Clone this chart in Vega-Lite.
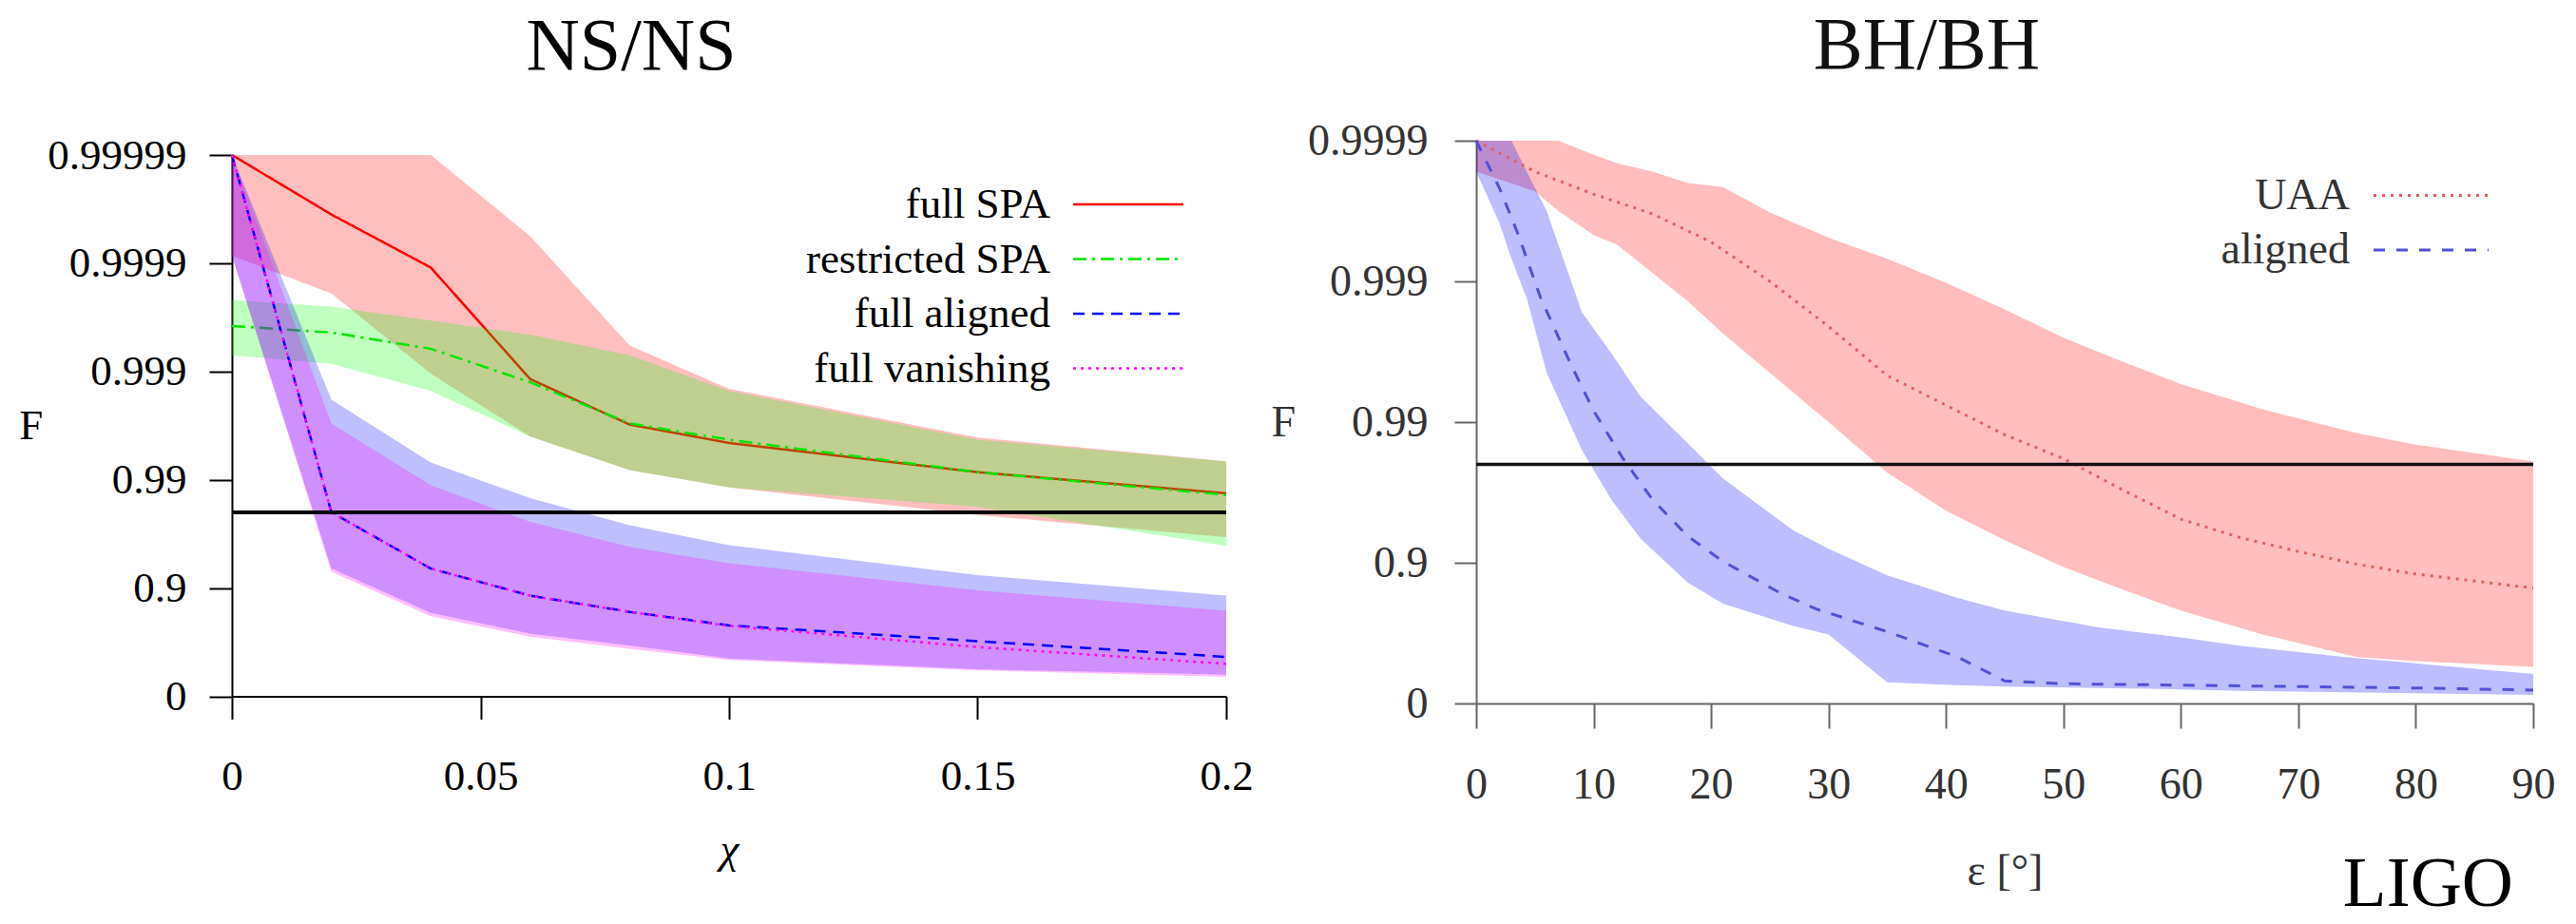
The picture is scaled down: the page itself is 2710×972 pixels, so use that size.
{
"$schema":"https://vega.github.io/schema/vega-lite/v6.json",
"background":"white",
"padding":{"left":19,"top":10,"right":5,"bottom":0},
"spacing":17,
"resolve":{"scale":{"color":"independent","strokeDash":"independent"},"legend":{"color":"independent","strokeDash":"independent"}},
"datasets":{
"ns":[
{"x":0,"series":"full SPA","lo":4.07,"hi":5.0,"mid":5.0},
{"x":0.02,"series":"full SPA","lo":3.72,"hi":5.0,"mid":4.45},
{"x":0.04,"series":"full SPA","lo":2.98,"hi":5.0,"mid":3.96},
{"x":0.06,"series":"full SPA","lo":2.40,"hi":4.25,"mid":2.93},
{"x":0.08,"series":"full SPA","lo":2.09,"hi":3.24,"mid":2.51},
{"x":0.1,"series":"full SPA","lo":1.93,"hi":2.84,"mid":2.34},
{"x":0.15,"series":"full SPA","lo":1.675,"hi":2.39,"mid":2.07},
{"x":0.2,"series":"full SPA","lo":1.47,"hi":2.17,"mid":1.875},
{"x":0,"series":"restricted SPA","lo":3.15,"hi":3.66,"mid":3.42},
{"x":0.02,"series":"restricted SPA","lo":3.07,"hi":3.60,"mid":3.36},
{"x":0.04,"series":"restricted SPA","lo":2.82,"hi":3.47,"mid":3.21},
{"x":0.06,"series":"restricted SPA","lo":2.40,"hi":3.34,"mid":2.90},
{"x":0.08,"series":"restricted SPA","lo":2.09,"hi":3.15,"mid":2.52},
{"x":0.1,"series":"restricted SPA","lo":1.93,"hi":2.82,"mid":2.37},
{"x":0.15,"series":"restricted SPA","lo":1.75,"hi":2.37,"mid":2.07},
{"x":0.2,"series":"restricted SPA","lo":1.39,"hi":2.17,"mid":1.86},
{"x":0,"series":"full aligned","lo":4.07,"hi":5.0,"mid":5.0},
{"x":0.02,"series":"full aligned","lo":1.18,"hi":2.74,"mid":1.70},
{"x":0.04,"series":"full aligned","lo":0.77,"hi":2.16,"mid":1.18},
{"x":0.06,"series":"full aligned","lo":0.58,"hi":1.83,"mid":0.93},
{"x":0.08,"series":"full aligned","lo":0.47,"hi":1.58,"mid":0.78},
{"x":0.1,"series":"full aligned","lo":0.35,"hi":1.395,"mid":0.655},
{"x":0.15,"series":"full aligned","lo":0.25,"hi":1.12,"mid":0.51},
{"x":0.2,"series":"full aligned","lo":0.20,"hi":0.93,"mid":0.364},
{"x":0,"series":"full vanishing","lo":4.07,"hi":5.0,"mid":5.0},
{"x":0.02,"series":"full vanishing","lo":1.15,"hi":2.52,"mid":1.70},
{"x":0.04,"series":"full vanishing","lo":0.74,"hi":1.95,"mid":1.18},
{"x":0.06,"series":"full vanishing","lo":0.55,"hi":1.61,"mid":0.93},
{"x":0.08,"series":"full vanishing","lo":0.44,"hi":1.38,"mid":0.78},
{"x":0.1,"series":"full vanishing","lo":0.335,"hi":1.23,"mid":0.65},
{"x":0.15,"series":"full vanishing","lo":0.24,"hi":0.98,"mid":0.455},
{"x":0.2,"series":"full vanishing","lo":0.18,"hi":0.79,"mid":0.30}
],
"bh_band":[
{"x":0,"series":"UAA","lo":3.78,"hi":4.0},
{"x":5,"series":"UAA","lo":3.64,"hi":4.0},
{"x":7,"series":"UAA","lo":3.50,"hi":4.0},
{"x":10,"series":"UAA","lo":3.33,"hi":3.90},
{"x":12,"series":"UAA","lo":3.26,"hi":3.84},
{"x":15,"series":"UAA","lo":3.06,"hi":3.78},
{"x":18,"series":"UAA","lo":2.86,"hi":3.70},
{"x":21,"series":"UAA","lo":2.63,"hi":3.67},
{"x":25,"series":"UAA","lo":2.35,"hi":3.49},
{"x":30,"series":"UAA","lo":2.00,"hi":3.31},
{"x":35,"series":"UAA","lo":1.64,"hi":3.16},
{"x":40,"series":"UAA","lo":1.37,"hi":2.99},
{"x":45,"series":"UAA","lo":1.16,"hi":2.80},
{"x":50,"series":"UAA","lo":0.97,"hi":2.60},
{"x":55,"series":"UAA","lo":0.81,"hi":2.43},
{"x":60,"series":"UAA","lo":0.66,"hi":2.27},
{"x":67,"series":"UAA","lo":0.49,"hi":2.09},
{"x":75,"series":"UAA","lo":0.33,"hi":1.92},
{"x":80,"series":"UAA","lo":0.30,"hi":1.84},
{"x":90,"series":"UAA","lo":0.26,"hi":1.72},
{"x":0,"series":"aligned","lo":3.78,"hi":4.0},
{"x":2,"series":"aligned","lo":3.41,"hi":4.0},
{"x":3,"series":"aligned","lo":3.16,"hi":4.0},
{"x":4.3,"series":"aligned","lo":2.88,"hi":3.78},
{"x":6,"series":"aligned","lo":2.35,"hi":3.50},
{"x":9,"series":"aligned","lo":1.80,"hi":2.78},
{"x":11.5,"series":"aligned","lo":1.45,"hi":2.49},
{"x":14,"series":"aligned","lo":1.17,"hi":2.18},
{"x":18,"series":"aligned","lo":0.86,"hi":1.85},
{"x":21,"series":"aligned","lo":0.71,"hi":1.60},
{"x":27,"series":"aligned","lo":0.55,"hi":1.23},
{"x":30,"series":"aligned","lo":0.49,"hi":1.10},
{"x":35,"series":"aligned","lo":0.15,"hi":0.91},
{"x":41,"series":"aligned","lo":0.13,"hi":0.75},
{"x":45,"series":"aligned","lo":0.12,"hi":0.66},
{"x":53,"series":"aligned","lo":0.11,"hi":0.54},
{"x":60,"series":"aligned","lo":0.10,"hi":0.47},
{"x":65,"series":"aligned","lo":0.09,"hi":0.41},
{"x":74,"series":"aligned","lo":0.08,"hi":0.33},
{"x":90,"series":"aligned","lo":0.06,"hi":0.21}
],
"bh_line":[
{"x":0,"series":"UAA","v":4.0},
{"x":5,"series":"UAA","v":3.78},
{"x":10,"series":"UAA","v":3.62},
{"x":15,"series":"UAA","v":3.48},
{"x":20,"series":"UAA","v":3.28},
{"x":25,"series":"UAA","v":3.00},
{"x":30,"series":"UAA","v":2.68},
{"x":35,"series":"UAA","v":2.33},
{"x":40,"series":"UAA","v":2.12},
{"x":45,"series":"UAA","v":1.91},
{"x":50,"series":"UAA","v":1.74},
{"x":55,"series":"UAA","v":1.52},
{"x":60,"series":"UAA","v":1.31},
{"x":65,"series":"UAA","v":1.18},
{"x":70,"series":"UAA","v":1.08},
{"x":75,"series":"UAA","v":0.99},
{"x":80,"series":"UAA","v":0.92},
{"x":85,"series":"UAA","v":0.87},
{"x":90,"series":"UAA","v":0.82},
{"x":0,"series":"aligned","v":4.0},
{"x":2,"series":"aligned","v":3.66},
{"x":3.5,"series":"aligned","v":3.35},
{"x":5.5,"series":"aligned","v":2.88},
{"x":8,"series":"aligned","v":2.42},
{"x":10,"series":"aligned","v":2.08},
{"x":12.5,"series":"aligned","v":1.74},
{"x":15,"series":"aligned","v":1.45},
{"x":18,"series":"aligned","v":1.19},
{"x":21,"series":"aligned","v":1.01},
{"x":26,"series":"aligned","v":0.78},
{"x":29,"series":"aligned","v":0.67},
{"x":35,"series":"aligned","v":0.51},
{"x":41,"series":"aligned","v":0.33},
{"x":45,"series":"aligned","v":0.16},
{"x":50,"series":"aligned","v":0.14},
{"x":60,"series":"aligned","v":0.13},
{"x":70,"series":"aligned","v":0.12},
{"x":80,"series":"aligned","v":0.11},
{"x":90,"series":"aligned","v":0.095}
]
},
"hconcat":[
{
"width":1046,"height":584.5,
"title":{"text":"NS/NS","font":"Liberation Serif","fontSize":78,"fontWeight":"normal","color":"black","anchor":"middle","frame":"group","baseline":"alphabetic","offset":-9.5,"dx":-103},
"layer":[
{"data":{"name":"ns"},"transform":[{"filter":"datum.series == 'full SPA'"}],
 "mark":{"type":"area","fill":"#ff0000","fillOpacity":0.25},
 "encoding":{
  "x":{"field":"x","type":"quantitative","scale":{"domain":[0,0.2],"nice":false},"axis":{"title":"χ","titleFontStyle":"italic","values":[0,0.05,0.1,0.15,0.2],"format":"~g"}},
  "y":{"field":"lo","type":"quantitative","stack":null,"scale":{"domain":[0,5],"nice":false,"range":[584.5,15]},"axis":{"title":"F","values":[0,1,2,3,4,5],"labelExpr":"datum.value==0?'0':datum.value==1?'0.9':datum.value==2?'0.99':datum.value==3?'0.999':datum.value==4?'0.9999':'0.99999'"}},
  "y2":{"field":"hi"}}},
{"data":{"name":"ns"},"transform":[{"filter":"datum.series == 'full SPA'"}],
 "mark":{"type":"line","strokeWidth":2.5},
 "encoding":{
  "x":{"field":"x","type":"quantitative","scale":{"domain":[0,0.2],"nice":false},"axis":{"title":"χ","titleFontStyle":"italic","values":[0,0.05,0.1,0.15,0.2],"format":"~g"}},
  "y":{"field":"mid","type":"quantitative","scale":{"domain":[0,5],"nice":false,"range":[584.5,15]},"axis":{"title":"F","values":[0,1,2,3,4,5],"labelExpr":"datum.value==0?'0':datum.value==1?'0.9':datum.value==2?'0.99':datum.value==3?'0.999':datum.value==4?'0.9999':'0.99999'"}},
  "color":{"field":"series","type":"nominal","scale":{"domain":["full SPA","restricted SPA","full aligned","full vanishing"],"range":["#ff0000","#00e600","#0000ff","#ff00ff"]},"legend":{"title":null,"orient":"none","legendX":920.5,"legendY":44.5,"symbolType":"M-4,0H4","symbolSize":841,"symbolStrokeWidth":2.5,"labelAlign":"right","labelOffset":-104.5,"labelFont":"Liberation Serif","labelFontSize":45,"labelColor":"black","labelLimit":0,"rowPadding":11.5,"padding":0}},
  "strokeDash":{"field":"series","type":"nominal","scale":{"domain":["full SPA","restricted SPA","full aligned","full vanishing"],"range":[[1,0],[14,6,3,6],[12,8],[3,5]]},"legend":{"title":null,"orient":"none","legendX":920.5,"legendY":44.5,"symbolType":"M-4,0H4","symbolSize":841,"symbolStrokeWidth":2.5,"labelAlign":"right","labelOffset":-104.5,"labelFont":"Liberation Serif","labelFontSize":45,"labelColor":"black","labelLimit":0,"rowPadding":11.5,"padding":0}}}},
{"data":{"name":"ns"},"transform":[{"filter":"datum.series == 'restricted SPA'"}],
 "mark":{"type":"area","fill":"#00ff00","fillOpacity":0.25},
 "encoding":{
  "x":{"field":"x","type":"quantitative","scale":{"domain":[0,0.2],"nice":false},"axis":{"title":"χ","titleFontStyle":"italic","values":[0,0.05,0.1,0.15,0.2],"format":"~g"}},
  "y":{"field":"lo","type":"quantitative","stack":null,"scale":{"domain":[0,5],"nice":false,"range":[584.5,15]},"axis":{"title":"F","values":[0,1,2,3,4,5],"labelExpr":"datum.value==0?'0':datum.value==1?'0.9':datum.value==2?'0.99':datum.value==3?'0.999':datum.value==4?'0.9999':'0.99999'"}},
  "y2":{"field":"hi"}}},
{"data":{"name":"ns"},"transform":[{"filter":"datum.series == 'restricted SPA'"}],
 "mark":{"type":"line","strokeWidth":2.5},
 "encoding":{
  "x":{"field":"x","type":"quantitative","scale":{"domain":[0,0.2],"nice":false},"axis":{"title":"χ","titleFontStyle":"italic","values":[0,0.05,0.1,0.15,0.2],"format":"~g"}},
  "y":{"field":"mid","type":"quantitative","scale":{"domain":[0,5],"nice":false,"range":[584.5,15]},"axis":{"title":"F","values":[0,1,2,3,4,5],"labelExpr":"datum.value==0?'0':datum.value==1?'0.9':datum.value==2?'0.99':datum.value==3?'0.999':datum.value==4?'0.9999':'0.99999'"}},
  "color":{"field":"series","type":"nominal","scale":{"domain":["full SPA","restricted SPA","full aligned","full vanishing"],"range":["#ff0000","#00e600","#0000ff","#ff00ff"]}},
  "strokeDash":{"field":"series","type":"nominal","scale":{"domain":["full SPA","restricted SPA","full aligned","full vanishing"],"range":[[1,0],[14,6,3,6],[12,8],[3,5]]}}}},
{"data":{"name":"ns"},"transform":[{"filter":"datum.series == 'full aligned'"}],
 "mark":{"type":"area","fill":"#0000ff","fillOpacity":0.25},
 "encoding":{
  "x":{"field":"x","type":"quantitative","scale":{"domain":[0,0.2],"nice":false},"axis":{"title":"χ","titleFontStyle":"italic","values":[0,0.05,0.1,0.15,0.2],"format":"~g"}},
  "y":{"field":"lo","type":"quantitative","stack":null,"scale":{"domain":[0,5],"nice":false,"range":[584.5,15]},"axis":{"title":"F","values":[0,1,2,3,4,5],"labelExpr":"datum.value==0?'0':datum.value==1?'0.9':datum.value==2?'0.99':datum.value==3?'0.999':datum.value==4?'0.9999':'0.99999'"}},
  "y2":{"field":"hi"}}},
{"data":{"name":"ns"},"transform":[{"filter":"datum.series == 'full vanishing'"}],
 "mark":{"type":"area","fill":"#ff00ff","fillOpacity":0.25},
 "encoding":{
  "x":{"field":"x","type":"quantitative","scale":{"domain":[0,0.2],"nice":false},"axis":{"title":"χ","titleFontStyle":"italic","values":[0,0.05,0.1,0.15,0.2],"format":"~g"}},
  "y":{"field":"lo","type":"quantitative","stack":null,"scale":{"domain":[0,5],"nice":false,"range":[584.5,15]},"axis":{"title":"F","values":[0,1,2,3,4,5],"labelExpr":"datum.value==0?'0':datum.value==1?'0.9':datum.value==2?'0.99':datum.value==3?'0.999':datum.value==4?'0.9999':'0.99999'"}},
  "y2":{"field":"hi"}}},
{"data":{"name":"ns"},"transform":[{"filter":"datum.series == 'full aligned' || datum.series == 'full vanishing'"}],
 "mark":{"type":"line","strokeWidth":2.5},
 "encoding":{
  "x":{"field":"x","type":"quantitative","scale":{"domain":[0,0.2],"nice":false},"axis":{"title":"χ","titleFontStyle":"italic","values":[0,0.05,0.1,0.15,0.2],"format":"~g"}},
  "y":{"field":"mid","type":"quantitative","scale":{"domain":[0,5],"nice":false,"range":[584.5,15]},"axis":{"title":"F","values":[0,1,2,3,4,5],"labelExpr":"datum.value==0?'0':datum.value==1?'0.9':datum.value==2?'0.99':datum.value==3?'0.999':datum.value==4?'0.9999':'0.99999'"}},
  "color":{"field":"series","type":"nominal","scale":{"domain":["full SPA","restricted SPA","full aligned","full vanishing"],"range":["#ff0000","#00e600","#0000ff","#ff00ff"]}},
  "strokeDash":{"field":"series","type":"nominal","scale":{"domain":["full SPA","restricted SPA","full aligned","full vanishing"],"range":[[1,0],[14,6,3,6],[12,8],[3,5]]}}}},
{"data":{"values":[{"nines":1.699}]},
 "mark":{"type":"rule","color":"black","strokeWidth":4},
 "encoding":{
  "y":{"field":"nines","type":"quantitative","scale":{"domain":[0,5],"nice":false,"range":[584.5,15]},"axis":{"title":"F","values":[0,1,2,3,4,5],"labelExpr":"datum.value==0?'0':datum.value==1?'0.9':datum.value==2?'0.99':datum.value==3?'0.999':datum.value==4?'0.9999':'0.99999'"}}}}
]
},
{
"width":1112,"height":592,
"title":{"text":"BH/BH","font":"Liberation Serif","fontSize":78,"fontWeight":"normal","color":"#111111","anchor":"middle","frame":"group","baseline":"alphabetic","offset":-25,"dx":-82},
"layer":[
{"data":{"name":"bh_band"},"transform":[{"filter":"datum.series == 'UAA'"}],
 "mark":{"type":"area","fill":"#ff0000","fillOpacity":0.26},
 "encoding":{
  "x":{"field":"x","type":"quantitative","scale":{"domain":[0,90],"nice":false},"axis":{"title":"ε [°]","values":[0,10,20,30,40,50,60,70,80,90],"labelFontSize":46,"titleFontSize":46,"labelColor":"#333333","titleColor":"#333333","domainColor":"#666666","tickColor":"#666666","tickSize":26,"labelPadding":37,"titlePadding":46}},
  "y":{"field":"lo","type":"quantitative","stack":null,"scale":{"domain":[0,4],"nice":false},"axis":{"title":"F","values":[0,1,2,3,4],"labelExpr":"datum.value==0?'0':datum.value==1?'0.9':datum.value==2?'0.99':datum.value==3?'0.999':'0.9999'","labelFontSize":46,"titleFontSize":46,"labelColor":"#333333","titleColor":"#333333","domainColor":"#666666","tickColor":"#666666","tickSize":23,"labelPadding":28,"titlePadding":13}},
  "y2":{"field":"hi"}}},
{"data":{"name":"bh_band"},"transform":[{"filter":"datum.series == 'aligned'"}],
 "mark":{"type":"area","fill":"#0000ff","fillOpacity":0.26},
 "encoding":{
  "x":{"field":"x","type":"quantitative","scale":{"domain":[0,90],"nice":false},"axis":{"title":"ε [°]","values":[0,10,20,30,40,50,60,70,80,90],"labelFontSize":46,"titleFontSize":46,"labelColor":"#333333","titleColor":"#333333","domainColor":"#666666","tickColor":"#666666","tickSize":26,"labelPadding":37,"titlePadding":46}},
  "y":{"field":"lo","type":"quantitative","stack":null,"scale":{"domain":[0,4],"nice":false},"axis":{"title":"F","values":[0,1,2,3,4],"labelExpr":"datum.value==0?'0':datum.value==1?'0.9':datum.value==2?'0.99':datum.value==3?'0.999':'0.9999'","labelFontSize":46,"titleFontSize":46,"labelColor":"#333333","titleColor":"#333333","domainColor":"#666666","tickColor":"#666666","tickSize":23,"labelPadding":28,"titlePadding":13}},
  "y2":{"field":"hi"}}},
{"data":{"name":"bh_line"},
 "mark":{"type":"line","strokeWidth":3},
 "encoding":{
  "x":{"field":"x","type":"quantitative","scale":{"domain":[0,90],"nice":false},"axis":{"title":"ε [°]","values":[0,10,20,30,40,50,60,70,80,90],"labelFontSize":46,"titleFontSize":46,"labelColor":"#333333","titleColor":"#333333","domainColor":"#666666","tickColor":"#666666","tickSize":26,"labelPadding":37,"titlePadding":46}},
  "y":{"field":"v","type":"quantitative","scale":{"domain":[0,4],"nice":false},"axis":{"title":"F","values":[0,1,2,3,4],"labelExpr":"datum.value==0?'0':datum.value==1?'0.9':datum.value==2?'0.99':datum.value==3?'0.999':'0.9999'","labelFontSize":46,"titleFontSize":46,"labelColor":"#333333","titleColor":"#333333","domainColor":"#666666","tickColor":"#666666","tickSize":23,"labelPadding":28,"titlePadding":13}},
  "color":{"field":"series","type":"nominal","scale":{"domain":["UAA","aligned"],"range":["#e06060","#5050d8"]},"legend":{"title":null,"orient":"none","legendX":981.5,"legendY":34.5,"symbolType":"M-4,0H4","symbolSize":915,"symbolStrokeWidth":3,"labelAlign":"right","labelOffset":-108.5,"labelFont":"Liberation Serif","labelFontSize":46,"labelColor":"#333333","labelLimit":0,"rowPadding":11.5,"padding":0}},
  "strokeDash":{"field":"series","type":"nominal","scale":{"domain":["UAA","aligned"],"range":[[3,6],[12,12]]},"legend":{"title":null,"orient":"none","legendX":981.5,"legendY":34.5,"symbolType":"M-4,0H4","symbolSize":915,"symbolStrokeWidth":3,"labelAlign":"right","labelOffset":-108.5,"labelFont":"Liberation Serif","labelFontSize":46,"labelColor":"#333333","labelLimit":0,"rowPadding":11.5,"padding":0}}}},
{"data":{"values":[{"nines":1.699}]},
 "mark":{"type":"rule","color":"#111111","strokeWidth":3.5},
 "encoding":{
  "y":{"field":"nines","type":"quantitative","scale":{"domain":[0,4],"nice":false},"axis":{"title":"F","values":[0,1,2,3,4],"labelExpr":"datum.value==0?'0':datum.value==1?'0.9':datum.value==2?'0.99':datum.value==3?'0.999':'0.9999'","labelFontSize":46,"titleFontSize":46,"labelColor":"#333333","titleColor":"#333333","domainColor":"#666666","tickColor":"#666666","tickSize":23,"labelPadding":28,"titlePadding":13}}}},
{"data":{"values":[{"label":"LIGO"}]},
 "mark":{"type":"text","font":"Liberation Serif","fontSize":75,"align":"right","baseline":"alphabetic","color":"black"},
 "encoding":{
  "text":{"field":"label"},
  "x":{"datum":88.3,"type":"quantitative","scale":{"domain":[0,90],"nice":false},"axis":{"title":"ε [°]","values":[0,10,20,30,40,50,60,70,80,90],"labelFontSize":46,"titleFontSize":46,"labelColor":"#333333","titleColor":"#333333","domainColor":"#666666","tickColor":"#666666","tickSize":26,"labelPadding":37,"titlePadding":46}},
  "y":{"datum":-1.44,"type":"quantitative","scale":{"domain":[0,4],"nice":false},"axis":{"title":"F","values":[0,1,2,3,4],"labelExpr":"datum.value==0?'0':datum.value==1?'0.9':datum.value==2?'0.99':datum.value==3?'0.999':'0.9999'","labelFontSize":46,"titleFontSize":46,"labelColor":"#333333","titleColor":"#333333","domainColor":"#666666","tickColor":"#666666","tickSize":23,"labelPadding":28,"titlePadding":13}}}}
]
}
],
"config":{
 "view":{"stroke":null},
 "font":"Liberation Serif",
 "axis":{"grid":false,"domainColor":"black","domainWidth":2,"tickColor":"black","tickWidth":2,"tickSize":24,"labelFont":"Liberation Serif","titleFont":"Liberation Serif","labelFontSize":45,"titleFontSize":45,"titleFontWeight":"normal","labelColor":"black","titleColor":"black","labelFlush":false,"labelOverlap":false,"labelBound":false},
 "axisX":{"labelPadding":38,"titlePadding":32},
 "axisY":{"labelPadding":24,"titleAngle":0,"titleAlign":"right","titleBaseline":"middle","titlePadding":5}
}
}
